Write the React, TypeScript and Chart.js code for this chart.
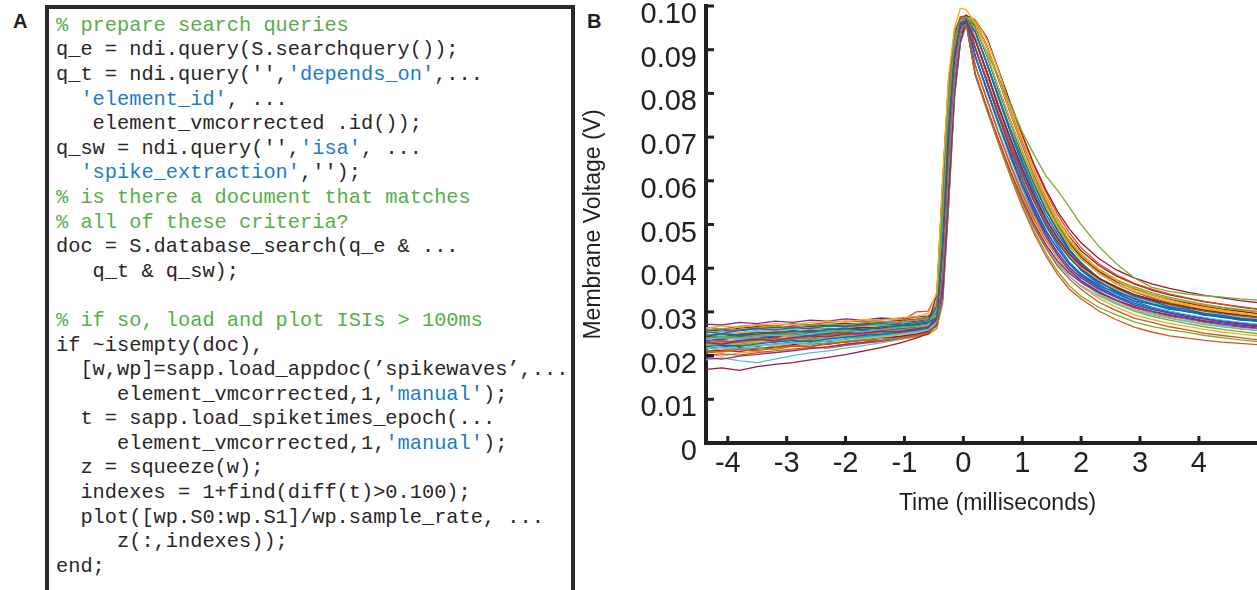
import React, { useEffect, useRef } from 'react';
import { Chart, registerables } from 'chart.js';

Chart.register(...registerables);

// ---- data (time in ms, membrane voltage in V) ----
const timeMs = [-4.4, -4.1, -3.8, -3.5, -3.2, -2.9, -2.6, -2.3, -2.0, -1.7, -1.4, -1.1, -0.8, -0.6, -0.45, -0.35, -0.25, -0.15, -0.05, 0.05, 0.2, 0.4, 0.6, 0.8, 1.0, 1.2, 1.4, 1.6, 1.8, 2.0, 2.3, 2.6, 2.9, 3.2, 3.5, 3.8, 4.1, 4.4, 4.7, 5.0];

const trace01 = [0.0245, 0.0250, 0.0247, 0.0253, 0.0251, 0.0256, 0.0254, 0.0260, 0.0262, 0.0259, 0.0266, 0.0268, 0.0272, 0.0276, 0.0288, 0.046, 0.072, 0.089, 0.0962, 0.0968, 0.0885, 0.0811, 0.0731, 0.0662, 0.0592, 0.0537, 0.0483, 0.0446, 0.0409, 0.0388, 0.0360, 0.0344, 0.0325, 0.0317, 0.0306, 0.0301, 0.0292, 0.0288, 0.0281, 0.0279];
const trace02 = [0.0205, 0.0210, 0.0214, 0.0211, 0.0218, 0.0222, 0.0220, 0.0227, 0.0231, 0.0235, 0.0233, 0.0240, 0.0246, 0.0252, 0.0272, 0.039, 0.064, 0.085, 0.0945, 0.0958, 0.0846, 0.0766, 0.0690, 0.0618, 0.0552, 0.0494, 0.0446, 0.0405, 0.0375, 0.0352, 0.0322, 0.0303, 0.0286, 0.0276, 0.0266, 0.0259, 0.0251, 0.0246, 0.0241, 0.0236];
const trace03 = [0.0262, 0.0268, 0.0265, 0.0270, 0.0273, 0.0271, 0.0276, 0.0279, 0.0277, 0.0283, 0.0281, 0.0286, 0.0290, 0.0296, 0.0345, 0.061, 0.084, 0.095, 0.0995, 0.0992, 0.0960, 0.0890, 0.0812, 0.0737, 0.0664, 0.0600, 0.0543, 0.0494, 0.0454, 0.0422, 0.0389, 0.0364, 0.0347, 0.0335, 0.0323, 0.0315, 0.0307, 0.0301, 0.0296, 0.0291];
const trace04 = [0.0230, 0.0226, 0.0234, 0.0237, 0.0233, 0.0241, 0.0245, 0.0243, 0.0249, 0.0252, 0.0256, 0.0254, 0.0261, 0.0265, 0.0283, 0.045, 0.071, 0.088, 0.0958, 0.0962, 0.0845, 0.0768, 0.0693, 0.0622, 0.0558, 0.0501, 0.0454, 0.0417, 0.0388, 0.0368, 0.0344, 0.0327, 0.0312, 0.0302, 0.0294, 0.0287, 0.0280, 0.0275, 0.0270, 0.0266];
const trace05 = [0.0240, 0.0244, 0.0241, 0.0247, 0.0250, 0.0248, 0.0253, 0.0257, 0.0255, 0.0261, 0.0259, 0.0265, 0.0268, 0.0272, 0.0305, 0.053, 0.078, 0.092, 0.0968, 0.0975, 0.0950, 0.0895, 0.0835, 0.0775, 0.0712, 0.0660, 0.0612, 0.0578, 0.0540, 0.0500, 0.0450, 0.0410, 0.0378, 0.0356, 0.0347, 0.0341, 0.0337, 0.0334, 0.0330, 0.0327];
const trace06 = [0.0215, 0.0219, 0.0216, 0.0223, 0.0226, 0.0229, 0.0227, 0.0234, 0.0238, 0.0241, 0.0245, 0.0249, 0.0255, 0.0260, 0.0278, 0.040, 0.063, 0.084, 0.0942, 0.0960, 0.0846, 0.0767, 0.0691, 0.0619, 0.0553, 0.0497, 0.0450, 0.0410, 0.0381, 0.0360, 0.0336, 0.0318, 0.0303, 0.0293, 0.0285, 0.0278, 0.0271, 0.0266, 0.0261, 0.0257];
const trace07 = [0.0168, 0.0172, 0.0166, 0.0175, 0.0180, 0.0184, 0.0190, 0.0196, 0.0202, 0.0210, 0.0218, 0.0228, 0.0240, 0.0250, 0.0270, 0.045, 0.071, 0.089, 0.0958, 0.0965, 0.0922, 0.0850, 0.0768, 0.0697, 0.0628, 0.0566, 0.0513, 0.0468, 0.0432, 0.0405, 0.0377, 0.0356, 0.0340, 0.0328, 0.0319, 0.0311, 0.0304, 0.0298, 0.0293, 0.0289];
const trace08 = [0.0255, 0.0251, 0.0258, 0.0262, 0.0259, 0.0264, 0.0262, 0.0268, 0.0266, 0.0270, 0.0273, 0.0271, 0.0276, 0.0280, 0.0312, 0.054, 0.078, 0.092, 0.0970, 0.0972, 0.0955, 0.0888, 0.0807, 0.0735, 0.0658, 0.0596, 0.0533, 0.0487, 0.0442, 0.0413, 0.0376, 0.0355, 0.0336, 0.0325, 0.0312, 0.0306, 0.0296, 0.0292, 0.0285, 0.0282];
const trace09 = [0.0228, 0.0233, 0.0230, 0.0236, 0.0240, 0.0238, 0.0244, 0.0248, 0.0252, 0.0250, 0.0256, 0.0275, 0.0300, 0.0302, 0.0340, 0.060, 0.083, 0.094, 0.0975, 0.0970, 0.0927, 0.0846, 0.0772, 0.0693, 0.0628, 0.0560, 0.0510, 0.0470, 0.0433, 0.0407, 0.0377, 0.0358, 0.0339, 0.0329, 0.0318, 0.0312, 0.0303, 0.0299, 0.0292, 0.0290];
const trace10 = [0.0250, 0.0246, 0.0252, 0.0255, 0.0258, 0.0255, 0.0261, 0.0259, 0.0264, 0.0268, 0.0266, 0.0271, 0.0275, 0.0279, 0.0290, 0.047, 0.073, 0.090, 0.0966, 0.0974, 0.0970, 0.0923, 0.0850, 0.0768, 0.0697, 0.0623, 0.0566, 0.0512, 0.0470, 0.0434, 0.0397, 0.0372, 0.0351, 0.0339, 0.0327, 0.0318, 0.0310, 0.0304, 0.0298, 0.0293];
const trace11 = [0.0272, 0.0270, 0.0276, 0.0273, 0.0279, 0.0276, 0.0281, 0.0279, 0.0284, 0.0281, 0.0286, 0.0284, 0.0288, 0.0291, 0.0296, 0.034, 0.056, 0.080, 0.0918, 0.0962, 0.0888, 0.0807, 0.0733, 0.0657, 0.0591, 0.0530, 0.0478, 0.0436, 0.0402, 0.0378, 0.0352, 0.0333, 0.0316, 0.0306, 0.0298, 0.0290, 0.0284, 0.0277, 0.0273, 0.0268];
const trace12 = [0.0212, 0.0208, 0.0215, 0.0218, 0.0214, 0.0221, 0.0225, 0.0229, 0.0233, 0.0236, 0.0240, 0.0238, 0.0244, 0.0248, 0.0262, 0.032, 0.054, 0.079, 0.0915, 0.0955, 0.0843, 0.0762, 0.0686, 0.0612, 0.0545, 0.0486, 0.0435, 0.0393, 0.0360, 0.0336, 0.0310, 0.0293, 0.0277, 0.0267, 0.0259, 0.0253, 0.0246, 0.0241, 0.0236, 0.0232];
const trace13 = [0.0237, 0.0241, 0.0238, 0.0244, 0.0247, 0.0245, 0.0250, 0.0254, 0.0257, 0.0255, 0.0260, 0.0264, 0.0267, 0.0271, 0.0305, 0.052, 0.077, 0.092, 0.0968, 0.0975, 0.0884, 0.0806, 0.0729, 0.0655, 0.0588, 0.0528, 0.0477, 0.0435, 0.0401, 0.0377, 0.0352, 0.0332, 0.0317, 0.0306, 0.0297, 0.0290, 0.0283, 0.0277, 0.0272, 0.0268];
const trace14 = [0.0243, 0.0247, 0.0251, 0.0248, 0.0254, 0.0257, 0.0255, 0.0260, 0.0263, 0.0261, 0.0266, 0.0269, 0.0273, 0.0277, 0.0290, 0.047, 0.073, 0.090, 0.0968, 0.0978, 0.0968, 0.0928, 0.0853, 0.0778, 0.0706, 0.0638, 0.0580, 0.0530, 0.0490, 0.0458, 0.0422, 0.0396, 0.0378, 0.0364, 0.0354, 0.0345, 0.0338, 0.0332, 0.0326, 0.0321];
const trace15 = [0.0220, 0.0224, 0.0221, 0.0227, 0.0231, 0.0235, 0.0232, 0.0238, 0.0242, 0.0246, 0.0249, 0.0253, 0.0258, 0.0263, 0.0280, 0.039, 0.065, 0.085, 0.0948, 0.0966, 0.0923, 0.0845, 0.0766, 0.0690, 0.0618, 0.0553, 0.0497, 0.0452, 0.0414, 0.0386, 0.0358, 0.0337, 0.0320, 0.0308, 0.0299, 0.0291, 0.0284, 0.0278, 0.0273, 0.0269];
const trace16 = [0.0232, 0.0228, 0.0235, 0.0239, 0.0236, 0.0242, 0.0240, 0.0246, 0.0250, 0.0248, 0.0254, 0.0257, 0.0262, 0.0266, 0.0284, 0.046, 0.071, 0.088, 0.0955, 0.0960, 0.0843, 0.0762, 0.0684, 0.0610, 0.0540, 0.0480, 0.0428, 0.0386, 0.0352, 0.0330, 0.0302, 0.0282, 0.0265, 0.0254, 0.0245, 0.0240, 0.0235, 0.0231, 0.0228, 0.0225];
const trace17 = [0.0226, 0.0230, 0.0234, 0.0231, 0.0237, 0.0241, 0.0244, 0.0242, 0.0248, 0.0251, 0.0255, 0.0258, 0.0263, 0.0268, 0.0308, 0.053, 0.078, 0.092, 0.0970, 0.0968, 0.0926, 0.0846, 0.0771, 0.0694, 0.0627, 0.0563, 0.0510, 0.0466, 0.0429, 0.0402, 0.0373, 0.0352, 0.0335, 0.0323, 0.0314, 0.0306, 0.0299, 0.0293, 0.0288, 0.0284];
const trace18 = [0.0196, 0.0192, 0.0199, 0.0203, 0.0207, 0.0211, 0.0216, 0.0220, 0.0226, 0.0230, 0.0235, 0.0240, 0.0247, 0.0254, 0.0268, 0.033, 0.055, 0.080, 0.0920, 0.0965, 0.0886, 0.0806, 0.0729, 0.0654, 0.0586, 0.0525, 0.0473, 0.0430, 0.0396, 0.0372, 0.0346, 0.0327, 0.0311, 0.0301, 0.0292, 0.0285, 0.0278, 0.0272, 0.0267, 0.0263];
const trace19 = [0.0258, 0.0262, 0.0259, 0.0264, 0.0267, 0.0264, 0.0269, 0.0272, 0.0270, 0.0275, 0.0278, 0.0276, 0.0281, 0.0284, 0.0296, 0.046, 0.072, 0.089, 0.0962, 0.0970, 0.0958, 0.0889, 0.0812, 0.0738, 0.0668, 0.0605, 0.0548, 0.0501, 0.0461, 0.0430, 0.0398, 0.0374, 0.0357, 0.0344, 0.0333, 0.0325, 0.0317, 0.0311, 0.0306, 0.0301];
const trace20 = [0.0190, 0.0195, 0.0188, 0.0184, 0.0192, 0.0200, 0.0206, 0.0211, 0.0217, 0.0223, 0.0229, 0.0236, 0.0244, 0.0252, 0.0272, 0.040, 0.064, 0.085, 0.0945, 0.0962, 0.0885, 0.0806, 0.0729, 0.0655, 0.0587, 0.0526, 0.0474, 0.0431, 0.0397, 0.0372, 0.0348, 0.0325, 0.0313, 0.0299, 0.0294, 0.0283, 0.0279, 0.0270, 0.0268, 0.0262];
const trace21 = [0.0248, 0.0244, 0.0250, 0.0253, 0.0250, 0.0256, 0.0259, 0.0257, 0.0262, 0.0265, 0.0263, 0.0268, 0.0271, 0.0275, 0.0340, 0.060, 0.083, 0.094, 0.0972, 0.0972, 0.0957, 0.0888, 0.0811, 0.0737, 0.0666, 0.0602, 0.0545, 0.0497, 0.0457, 0.0425, 0.0393, 0.0369, 0.0352, 0.0339, 0.0328, 0.0320, 0.0312, 0.0306, 0.0301, 0.0296];
const trace22 = [0.0234, 0.0238, 0.0242, 0.0239, 0.0245, 0.0248, 0.0246, 0.0252, 0.0255, 0.0258, 0.0256, 0.0262, 0.0265, 0.0270, 0.0286, 0.046, 0.072, 0.090, 0.0964, 0.0970, 0.0924, 0.0849, 0.0769, 0.0696, 0.0624, 0.0563, 0.0506, 0.0463, 0.0424, 0.0398, 0.0367, 0.0348, 0.0329, 0.0319, 0.0308, 0.0302, 0.0293, 0.0289, 0.0282, 0.0280];
const trace23 = [0.0265, 0.0261, 0.0267, 0.0270, 0.0268, 0.0273, 0.0271, 0.0276, 0.0279, 0.0277, 0.0282, 0.0285, 0.0283, 0.0288, 0.0315, 0.054, 0.079, 0.093, 0.0975, 0.0978, 0.0969, 0.0926, 0.0851, 0.0775, 0.0703, 0.0634, 0.0575, 0.0523, 0.0481, 0.0447, 0.0410, 0.0385, 0.0366, 0.0352, 0.0341, 0.0332, 0.0324, 0.0318, 0.0312, 0.0307];
const trace24 = [0.0218, 0.0214, 0.0221, 0.0225, 0.0222, 0.0228, 0.0232, 0.0236, 0.0233, 0.0239, 0.0243, 0.0247, 0.0252, 0.0258, 0.0276, 0.040, 0.065, 0.086, 0.0948, 0.0962, 0.0885, 0.0805, 0.0728, 0.0653, 0.0584, 0.0522, 0.0469, 0.0425, 0.0391, 0.0367, 0.0341, 0.0322, 0.0306, 0.0296, 0.0287, 0.0280, 0.0273, 0.0267, 0.0262, 0.0258];
const trace25 = [0.0241, 0.0237, 0.0243, 0.0246, 0.0243, 0.0249, 0.0252, 0.0250, 0.0256, 0.0259, 0.0262, 0.0260, 0.0266, 0.0271, 0.0289, 0.046, 0.073, 0.090, 0.0965, 0.0970, 0.0926, 0.0847, 0.0771, 0.0694, 0.0626, 0.0561, 0.0508, 0.0461, 0.0426, 0.0396, 0.0369, 0.0346, 0.0331, 0.0317, 0.0310, 0.0300, 0.0295, 0.0287, 0.0284, 0.0278];
const trace26 = [0.0225, 0.0229, 0.0226, 0.0232, 0.0235, 0.0239, 0.0237, 0.0243, 0.0246, 0.0250, 0.0254, 0.0252, 0.0258, 0.0262, 0.0274, 0.033, 0.055, 0.079, 0.0918, 0.0958, 0.0955, 0.0886, 0.0810, 0.0735, 0.0664, 0.0600, 0.0543, 0.0494, 0.0454, 0.0421, 0.0388, 0.0364, 0.0347, 0.0334, 0.0323, 0.0315, 0.0307, 0.0301, 0.0296, 0.0291];
const trace27 = [0.0252, 0.0256, 0.0253, 0.0258, 0.0261, 0.0259, 0.0264, 0.0267, 0.0265, 0.0270, 0.0273, 0.0276, 0.0274, 0.0279, 0.0310, 0.053, 0.077, 0.092, 0.0968, 0.0974, 0.0925, 0.0849, 0.0772, 0.0697, 0.0628, 0.0566, 0.0511, 0.0466, 0.0430, 0.0402, 0.0373, 0.0352, 0.0335, 0.0323, 0.0314, 0.0306, 0.0299, 0.0293, 0.0288, 0.0284];
const trace28 = [0.0210, 0.0214, 0.0218, 0.0215, 0.0221, 0.0225, 0.0229, 0.0226, 0.0232, 0.0236, 0.0240, 0.0244, 0.0250, 0.0257, 0.0275, 0.039, 0.064, 0.085, 0.0946, 0.0964, 0.0956, 0.0887, 0.0808, 0.0734, 0.0659, 0.0595, 0.0534, 0.0486, 0.0443, 0.0412, 0.0377, 0.0355, 0.0336, 0.0325, 0.0313, 0.0305, 0.0296, 0.0292, 0.0285, 0.0282];
const trace29 = [0.0239, 0.0243, 0.0246, 0.0243, 0.0249, 0.0247, 0.0252, 0.0256, 0.0254, 0.0259, 0.0262, 0.0265, 0.0269, 0.0273, 0.0298, 0.050, 0.075, 0.091, 0.0966, 0.0971, 0.0942, 0.0870, 0.0791, 0.0716, 0.0645, 0.0581, 0.0524, 0.0478, 0.0439, 0.0409, 0.0378, 0.0355, 0.0339, 0.0326, 0.0316, 0.0308, 0.0301, 0.0295, 0.0290, 0.0285];
const trace30 = [0.0200, 0.0204, 0.0201, 0.0207, 0.0211, 0.0215, 0.0219, 0.0217, 0.0223, 0.0228, 0.0232, 0.0237, 0.0243, 0.0250, 0.0275, 0.042, 0.068, 0.087, 0.0955, 0.0963, 0.0865, 0.0786, 0.0709, 0.0636, 0.0570, 0.0512, 0.0464, 0.0424, 0.0392, 0.0370, 0.0344, 0.0325, 0.0309, 0.0298, 0.0290, 0.0283, 0.0276, 0.0270, 0.0265, 0.0261];
const trace31 = [0.0236, 0.0232, 0.0238, 0.0241, 0.0245, 0.0242, 0.0248, 0.0251, 0.0249, 0.0255, 0.0258, 0.0262, 0.0266, 0.0270, 0.0287, 0.046, 0.072, 0.090, 0.0964, 0.0972, 0.0964, 0.0908, 0.0833, 0.0757, 0.0685, 0.0618, 0.0558, 0.0506, 0.0464, 0.0430, 0.0396, 0.0372, 0.0354, 0.0340, 0.0329, 0.0321, 0.0313, 0.0307, 0.0301, 0.0296];
const trace32 = [0.0208, 0.0212, 0.0209, 0.0216, 0.0219, 0.0223, 0.0221, 0.0228, 0.0231, 0.0235, 0.0239, 0.0243, 0.0249, 0.0256, 0.0272, 0.036, 0.060, 0.083, 0.0935, 0.0962, 0.0904, 0.0826, 0.0748, 0.0673, 0.0604, 0.0542, 0.0488, 0.0444, 0.0409, 0.0383, 0.0355, 0.0336, 0.0319, 0.0307, 0.0298, 0.0291, 0.0284, 0.0278, 0.0273, 0.0269];
const trace33 = [0.0247, 0.0251, 0.0248, 0.0254, 0.0257, 0.0255, 0.0260, 0.0263, 0.0261, 0.0266, 0.0269, 0.0272, 0.0275, 0.0279, 0.0325, 0.057, 0.081, 0.093, 0.0972, 0.0968, 0.0943, 0.0871, 0.0795, 0.0721, 0.0652, 0.0589, 0.0534, 0.0488, 0.0450, 0.0421, 0.0391, 0.0370, 0.0353, 0.0340, 0.0330, 0.0322, 0.0315, 0.0309, 0.0304, 0.0300];
const trace34 = [0.0228, 0.0224, 0.0231, 0.0234, 0.0231, 0.0237, 0.0240, 0.0238, 0.0244, 0.0247, 0.0251, 0.0255, 0.0260, 0.0265, 0.0282, 0.043, 0.069, 0.088, 0.0958, 0.0968, 0.0866, 0.0789, 0.0712, 0.0641, 0.0575, 0.0518, 0.0470, 0.0431, 0.0400, 0.0379, 0.0353, 0.0335, 0.0319, 0.0309, 0.0301, 0.0294, 0.0287, 0.0281, 0.0276, 0.0272];
const trace35 = [0.0260, 0.0256, 0.0263, 0.0266, 0.0263, 0.0268, 0.0266, 0.0271, 0.0274, 0.0272, 0.0277, 0.0280, 0.0283, 0.0287, 0.0300, 0.050, 0.076, 0.091, 0.0968, 0.0976, 0.0965, 0.0909, 0.0835, 0.0760, 0.0688, 0.0623, 0.0564, 0.0513, 0.0472, 0.0440, 0.0406, 0.0382, 0.0364, 0.0350, 0.0339, 0.0331, 0.0323, 0.0317, 0.0311, 0.0306];
const trace36 = [0.0216, 0.0220, 0.0224, 0.0221, 0.0227, 0.0230, 0.0234, 0.0232, 0.0238, 0.0242, 0.0246, 0.0250, 0.0255, 0.0261, 0.0278, 0.040, 0.064, 0.085, 0.0946, 0.0964, 0.0940, 0.0866, 0.0787, 0.0710, 0.0638, 0.0572, 0.0514, 0.0466, 0.0426, 0.0395, 0.0363, 0.0341, 0.0324, 0.0311, 0.0301, 0.0293, 0.0286, 0.0280, 0.0275, 0.0270];
const trace37 = [0.0244, 0.0240, 0.0246, 0.0249, 0.0247, 0.0253, 0.0256, 0.0254, 0.0259, 0.0262, 0.0265, 0.0268, 0.0271, 0.0274, 0.0308, 0.053, 0.078, 0.092, 0.0970, 0.0980, 0.0907, 0.0830, 0.0754, 0.0681, 0.0614, 0.0554, 0.0502, 0.0460, 0.0426, 0.0401, 0.0375, 0.0355, 0.0338, 0.0327, 0.0318, 0.0311, 0.0304, 0.0298, 0.0293, 0.0289];
const trace38 = [0.0203, 0.0199, 0.0206, 0.0210, 0.0207, 0.0213, 0.0217, 0.0221, 0.0226, 0.0230, 0.0234, 0.0239, 0.0246, 0.0253, 0.0280, 0.045, 0.071, 0.089, 0.0960, 0.0965, 0.0864, 0.0785, 0.0707, 0.0633, 0.0565, 0.0506, 0.0456, 0.0414, 0.0381, 0.0358, 0.0331, 0.0311, 0.0294, 0.0283, 0.0274, 0.0267, 0.0260, 0.0254, 0.0249, 0.0245];
const trace39 = [0.0256, 0.0260, 0.0257, 0.0262, 0.0265, 0.0263, 0.0268, 0.0270, 0.0268, 0.0273, 0.0276, 0.0274, 0.0279, 0.0283, 0.0300, 0.050, 0.075, 0.091, 0.0967, 0.0972, 0.0963, 0.0907, 0.0830, 0.0754, 0.0681, 0.0614, 0.0554, 0.0502, 0.0460, 0.0425, 0.0389, 0.0364, 0.0346, 0.0332, 0.0321, 0.0313, 0.0305, 0.0299, 0.0293, 0.0288];
const trace40 = [0.0222, 0.0226, 0.0223, 0.0229, 0.0233, 0.0231, 0.0236, 0.0240, 0.0244, 0.0242, 0.0248, 0.0252, 0.0257, 0.0263, 0.0276, 0.036, 0.060, 0.083, 0.0934, 0.0962, 0.0903, 0.0824, 0.0745, 0.0668, 0.0598, 0.0535, 0.0479, 0.0434, 0.0397, 0.0370, 0.0340, 0.0319, 0.0302, 0.0290, 0.0281, 0.0273, 0.0266, 0.0260, 0.0255, 0.0250];
const trace41 = [0.0242, 0.0246, 0.0243, 0.0249, 0.0252, 0.0250, 0.0255, 0.0258, 0.0256, 0.0261, 0.0264, 0.0267, 0.0270, 0.0274, 0.0298, 0.049, 0.075, 0.091, 0.0966, 0.0970, 0.0944, 0.0866, 0.0792, 0.0712, 0.0645, 0.0576, 0.0523, 0.0472, 0.0437, 0.0402, 0.0375, 0.0349, 0.0336, 0.0319, 0.0313, 0.0301, 0.0298, 0.0288, 0.0287, 0.0279];
const trace42 = [0.0232, 0.0236, 0.0233, 0.0239, 0.0242, 0.0246, 0.0244, 0.0250, 0.0253, 0.0251, 0.0257, 0.0260, 0.0264, 0.0268, 0.0283, 0.043, 0.069, 0.088, 0.0958, 0.0969, 0.0905, 0.0830, 0.0753, 0.0680, 0.0613, 0.0553, 0.0501, 0.0458, 0.0424, 0.0398, 0.0371, 0.0351, 0.0334, 0.0323, 0.0314, 0.0307, 0.0300, 0.0294, 0.0289, 0.0285];

const traces = [trace01, trace02, trace03, trace04, trace05, trace06, trace07, trace08, trace09, trace10, trace11, trace12, trace13, trace14, trace15, trace16, trace17, trace18, trace19, trace20, trace21, trace22, trace23, trace24, trace25, trace26, trace27, trace28, trace29, trace30, trace31, trace32, trace33, trace34, trace35, trace36, trace37, trace38, trace39, trace40, trace41, trace42];

const seriesColors = ['#0072BD', '#D95319', '#EDB120', '#7E2F8E', '#77AC30', '#4DBEEE', '#A2142F'];

const xTickValues = [-4, -3, -2, -1, 0, 1, 2, 3, 4];
const xTickLabels = ['-4', '-3', '-2', '-1', '0', '1', '2', '3', '4'];
const yTickValues = [0, 0.01, 0.02, 0.03, 0.04, 0.05, 0.06, 0.07, 0.08, 0.09, 0.1];
const yTickLabels = ['0', '0.01', '0.02', '0.03', '0.04', '0.05', '0.06', '0.07', '0.08', '0.09', '0.10'];

const xTitle = 'Time (milliseconds)';
const yTitle = 'Membrane Voltage (V)';

// ---- code panel text ----
type Seg = [string, 'c' | 'k' | 's'];
const codeLines: Seg[][] = [
  [['% prepare search queries', 'c']],
  [['q_e = ndi.query(S.searchquery());', 'k']],
  [["q_t = ndi.query('',", 'k'], ["'depends_on'", 's'], [',...', 'k']],
  [['  ', 'k'], ["'element_id'", 's'], [', ...', 'k']],
  [['   element_vmcorrected .id());', 'k']],
  [["q_sw = ndi.query('',", 'k'], ["'isa'", 's'], [', ...', 'k']],
  [['  ', 'k'], ["'spike_extraction'", 's'], [",'');", 'k']],
  [['% is there a document that matches', 'c']],
  [['% all of these criteria?', 'c']],
  [['doc = S.database_search(q_e & ...', 'k']],
  [['   q_t & q_sw);', 'k']],
  [[' ', 'k']],
  [['% if so, load and plot ISIs > 100ms', 'c']],
  [['if ~isempty(doc),', 'k']],
  [['  [w,wp]=sapp.load_appdoc(\u2019spikewaves\u2019,...', 'k']],
  [['     element_vmcorrected,1,', 'k'], ["'manual'", 's'], [');', 'k']],
  [['  t = sapp.load_spiketimes_epoch(...', 'k']],
  [['     element_vmcorrected,1,', 'k'], ["'manual'", 's'], [');', 'k']],
  [['  z = squeeze(w);', 'k']],
  [['  indexes = 1+find(diff(t)>0.100);', 'k']],
  [['  plot([wp.S0:wp.S1]/wp.sample_rate, ...', 'k']],
  [['     z(:,indexes));', 'k']],
  [['end;', 'k']],
];

const segColor: Record<string, string> = { c: '#55ae48', k: '#2a2627', s: '#1a7cc9' };

const INK = '#231f20';
const SANS = "'Liberation Sans', Arial, Helvetica, sans-serif";

const inwardTicks = {
  id: 'inwardTicks',
  afterDatasetsDraw(chart: any) {
    const { ctx, chartArea, scales } = chart;
    ctx.save();
    ctx.strokeStyle = INK;
    ctx.lineWidth = 3;
    for (const t of scales.y.ticks) {
      const y = scales.y.getPixelForValue(t.value);
      ctx.beginPath();
      ctx.moveTo(chartArea.left, y);
      ctx.lineTo(chartArea.left + 8, y);
      ctx.stroke();
    }
    for (const t of scales.x.ticks) {
      const x = scales.x.getPixelForValue(t.value);
      ctx.beginPath();
      ctx.moveTo(x, chartArea.bottom);
      ctx.lineTo(x, chartArea.bottom - 7);
      ctx.stroke();
    }
    ctx.restore();
  },
};

function SpikeChart() {
  const ref = useRef<HTMLCanvasElement>(null);
  useEffect(() => {
    const canvas = ref.current;
    if (!canvas) return;
    const chart = new Chart(canvas, {
      type: 'line',
      data: {
        datasets: traces.map((tr, i) => ({
          label: 'spike ' + (i + 1),
          data: timeMs.map((t, j) => ({ x: t, y: tr[j] })),
          borderColor: seriesColors[i % seriesColors.length],
          borderWidth: 1.3,
          pointRadius: 0,
          tension: 0,
          fill: false,
        })),
      },
      options: {
        responsive: false,
        maintainAspectRatio: false,
        animation: false,
        events: [],
        layout: { padding: { top: 6, left: 0, right: 0, bottom: 0 } },
        plugins: { legend: { display: false }, tooltip: { enabled: false } },
        scales: {
          x: {
            type: 'linear',
            min: -4.37,
            max: 5.53,
            afterBuildTicks: (s: any) => {
              s.ticks = xTickValues.map((v) => ({ value: v }));
            },
            afterFit: (s: any) => {
              s.height = 147;
              s.paddingLeft = 0;
              s.paddingRight = 0;
            },
            grid: { display: true, drawOnChartArea: false, drawTicks: false },
            border: { display: true, width: 4, color: INK },
            ticks: {
              padding: 4,
              color: INK,
              autoSkip: false,
              maxRotation: 0,
              font: { family: SANS, size: 29 },
              callback: (_v: any, i: number) => xTickLabels[i],
            },
            title: {
              display: true,
              text: xTitle,
              color: INK,
              font: { family: SANS, size: 23 },
              padding: { top: 0, bottom: 73 },
            },
          },
          y: {
            type: 'linear',
            min: 0,
            max: 0.1,
            afterBuildTicks: (s: any) => {
              s.ticks = yTickValues.map((v) => ({ value: v }));
            },
            afterFit: (s: any) => {
              s.width = 126;
              s.paddingTop = 0;
              s.paddingBottom = 0;
            },
            grid: { display: true, drawOnChartArea: false, drawTicks: false },
            border: { display: true, width: 4, color: INK },
            ticks: {
              padding: 9,
              labelOffset: 9,
              color: INK,
              autoSkip: false,
              font: { family: SANS, size: 29 },
              callback: (_v: any, i: number) => yTickLabels[i],
            },
            title: {
              display: true,
              text: yTitle,
              color: INK,
              font: { family: SANS, size: 23 },
              padding: { top: 0, bottom: 0 },
            },
          },
        },
      } as any,
      plugins: [inwardTicks],
    });
    return () => chart.destroy();
  }, []);
  return (
    <canvas
      ref={ref}
      width={709}
      height={590}
      style={{ position: 'absolute', left: 580, top: 0, width: 709, height: 590 }}
    />
  );
}

export default function App() {
  return (
    <div
      style={{
        position: 'fixed',
        left: 0,
        top: 0,
        width: 1257,
        height: 590,
        overflow: 'hidden',
        background: '#ffffff',
      }}
    >
      <div
        style={{
          position: 'absolute',
          left: 13,
          top: 10.5,
          fontFamily: SANS,
          fontWeight: 'bold',
          fontSize: 20,
          lineHeight: '20px',
          color: INK,
        }}
      >
        A
      </div>
      <div
        style={{
          position: 'absolute',
          left: 587,
          top: 10.5,
          fontFamily: SANS,
          fontWeight: 'bold',
          fontSize: 20,
          lineHeight: '20px',
          color: INK,
        }}
      >
        B
      </div>
      <div
        style={{
          position: 'absolute',
          left: 45,
          top: 5,
          width: 530,
          height: 620,
          boxSizing: 'border-box',
          border: '4px solid #2a2a2a',
          paddingTop: 4.8,
          paddingLeft: 7,
          background: '#ffffff',
        }}
      >
        {codeLines.map((line, i) => (
          <div
            key={i}
            style={{
              fontFamily: "'Liberation Mono', 'Courier New', monospace",
              fontSize: '20.33px',
              lineHeight: '24.6px',
              height: '24.6px',
              whiteSpace: 'pre',
            }}
          >
            {line.map((seg, j) => (
              <span key={j} style={{ color: segColor[seg[1]] }}>
                {seg[0]}
              </span>
            ))}
          </div>
        ))}
      </div>
      <SpikeChart />
    </div>
  );
}
